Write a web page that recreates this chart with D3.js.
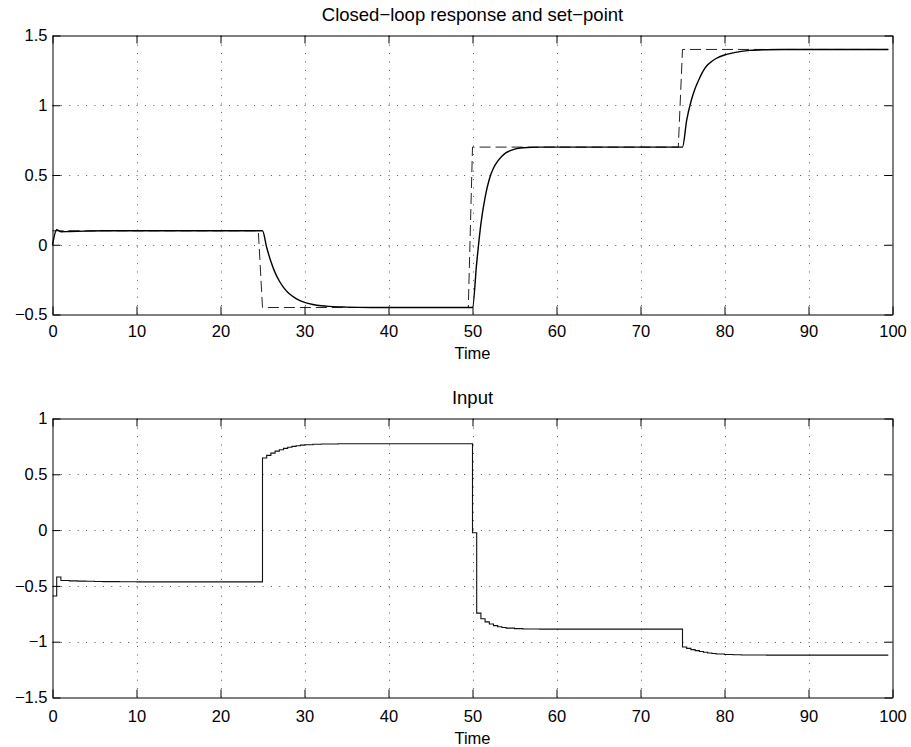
<!DOCTYPE html>
<html>
<head>
<meta charset="utf-8">
<script src="https://cdn.jsdelivr.net/npm/d3@7"></script>
<style>
  html, body { margin: 0; padding: 0; background: #fff; }
  svg { display: block; }
  text { font-family: "Liberation Sans", Arial, Helvetica, sans-serif; fill: #000; }
</style>
</head>
<body>
<svg id="chart" width="911" height="747"></svg>
<script>
// ---- data ---------------------------------------------------------------
// set-point trajectory (dashed)
const setpointTime  = [0, 24.5, 25, 49.5, 50, 74.5, 75, 99.5];
const setpointValue = [0.1, 0.1, -0.45, -0.45, 0.7, 0.7, 1.4, 1.4];

// closed-loop output (solid)
const responseTime = [
  0, 0.5, 1, 2, 4, 6, 25,
  25.5, 26, 26.5, 27, 27.5, 28, 28.5, 29, 30, 31, 32, 33, 35, 38, 50,
  50.5, 51, 51.5, 52, 52.5, 53, 53.5, 54, 55, 56, 58, 75,
  75.5, 76, 76.5, 77, 77.5, 78, 78.5, 79, 80, 81, 82, 83, 85, 87, 99.5
];
const responseValue = [
  0, 0.107, 0.093, 0.095, 0.098, 0.1, 0.1,
  -0.02, -0.12, -0.2, -0.26, -0.305, -0.34, -0.366, -0.386, -0.413, -0.428, -0.437, -0.442, -0.447, -0.45, -0.45,
  -0.13, 0.15, 0.34, 0.47, 0.55, 0.6, 0.635, 0.66, 0.685, 0.695, 0.7, 0.7,
  0.893, 1.025, 1.12, 1.19, 1.25, 1.29, 1.315, 1.335, 1.36, 1.375, 1.386, 1.393, 1.398, 1.4, 1.4
];

// controller input (zero-order hold)
const inputTime = [
  0, 0.5, 1, 2, 3, 4, 5, 6, 8, 10,
  25, 25.5, 26, 26.5, 27, 27.5, 28, 28.5, 29, 29.5, 30, 31, 32, 34,
  50, 50.5, 51, 51.5, 52, 52.5, 53, 53.5, 54, 55, 56, 58,
  75, 75.5, 76, 76.5, 77, 77.5, 78, 78.5, 79, 80, 81, 82, 85, 99.5
];
const inputValue = [
  -0.59, -0.42, -0.452, -0.455, -0.457, -0.459, -0.461, -0.462, -0.463, -0.464,
  0.646, 0.67, 0.69, 0.708, 0.72, 0.732, 0.742, 0.75, 0.756, 0.761, 0.765, 0.769, 0.772, 0.774,
  -0.024, -0.744, -0.795, -0.822, -0.842, -0.856, -0.866, -0.873, -0.878, -0.883, -0.886, -0.887,
  -1.047, -1.06, -1.071, -1.08, -1.088, -1.095, -1.101, -1.106, -1.11, -1.115, -1.117, -1.119, -1.12, -1.12
];

// axis ticks
const timeTicks   = [0, 10, 20, 30, 40, 50, 60, 70, 80, 90, 100];
const outputTicks = [-0.5, 0, 0.5, 1, 1.5];
const inputTicks  = [-1.5, -1, -0.5, 0, 0.5, 1];

const titles = ["Closed\u2212loop response and set\u2212point", "Input"];
const xLabel = "Time";

// ---- layout -------------------------------------------------------------
const svg = d3.select("#chart");
svg.append("rect").attr("width", 911).attr("height", 747).attr("fill", "#fff");

const left = 52.5, right = 892.5;
const fmt = d3.format("~g");
const TICK = 8;

function panel(opts) {
  const { top, bottom, yDomain, yTicks, title, xPad, labelGap } = opts;
  const x = d3.scaleLinear().domain([0, 100]).range([left, right]);
  const y = d3.scaleLinear().domain(yDomain).range([bottom, top]);
  const g = svg.append("g");

  // dotted grid
  const grid = g.append("g")
    .attr("stroke", "#555")
    .attr("stroke-width", 1)
    .attr("stroke-dasharray", "1,7.4")
    .attr("fill", "none");
  grid.selectAll("line.v")
    .data(timeTicks.filter(t => t > 0 && t < 100))
    .join("line")
    .attr("x1", d => Math.round(x(d)) + 0.5).attr("x2", d => Math.round(x(d)) + 0.5)
    .attr("y1", bottom).attr("y2", top);
  grid.selectAll("line.h")
    .data(yTicks.filter(v => v > yDomain[0] && v < yDomain[1]))
    .join("line")
    .attr("y1", d => Math.round(y(d)) + 0.5).attr("y2", d => Math.round(y(d)) + 0.5)
    .attr("x1", left).attr("x2", right);

  // axes: labelled bottom/left, bare top/right, all ticks pointing inward
  const axB = d3.axisBottom(x).tickValues(timeTicks).tickFormat(fmt)
    .tickSizeInner(-TICK).tickSizeOuter(0).tickPadding(xPad);
  const axT = d3.axisTop(x).tickValues(timeTicks).tickFormat("")
    .tickSizeInner(-TICK).tickSizeOuter(0);
  const axL = d3.axisLeft(y).tickValues(yTicks).tickFormat(fmt)
    .tickSizeInner(-TICK).tickSizeOuter(0).tickPadding(5);
  const axR = d3.axisRight(y).tickValues(yTicks).tickFormat("")
    .tickSizeInner(-TICK).tickSizeOuter(0);

  const style = sel => {
    sel.selectAll("path.domain").attr("stroke", "#000").attr("stroke-width", 1);
    sel.selectAll(".tick line").attr("stroke", "#000").attr("stroke-width", 1);
    sel.selectAll(".tick text").attr("font-size", 16.5)
      .attr("font-family", "\"Liberation Sans\", Arial, Helvetica, sans-serif").attr("fill", "#000");
  };

  // lines drawn before the frame so the frame sits on top
  const lines = g.append("g");

  g.append("g").attr("transform", `translate(0,${bottom})`).call(axB).call(style);
  g.append("g").attr("transform", `translate(0,${top})`).call(axT).call(style);
  g.append("g").attr("transform", `translate(${left},0)`).call(axL).call(style);
  g.append("g").attr("transform", `translate(${right},0)`).call(axR).call(style);

  // title and x label
  g.append("text")
    .attr("x", (left + right) / 2).attr("y", top - 15)
    .attr("text-anchor", "middle").attr("font-size", 18.5)
    .text(title);
  g.append("text")
    .attr("x", (left + right) / 2).attr("y", bottom + labelGap)
    .attr("text-anchor", "middle").attr("font-size", 16.5)
    .text(xLabel);

  return { x, y, lines };
}

// ---- top panel: output and set-point -----------------------------------
const p1 = panel({ top: 35.5, bottom: 314.5, yDomain: [-0.5, 1.5], yTicks: outputTicks,
                   title: titles[0], xPad: 11, labelGap: 44 });

const setpointLine = d3.line()
  .x(i => p1.x(setpointTime[i]))
  .y(i => p1.y(setpointValue[i]));
p1.lines.append("path")
  .attr("d", setpointLine(d3.range(setpointTime.length)))
  .attr("fill", "none").attr("stroke", "#222").attr("stroke-width", 1)
  .attr("stroke-dasharray", "11,5");

const responseLine = d3.line()
  .x(i => p1.x(responseTime[i]))
  .y(i => p1.y(responseValue[i]))
  .curve(d3.curveMonotoneX);
p1.lines.append("path")
  .attr("d", responseLine(d3.range(responseTime.length)))
  .attr("fill", "none").attr("stroke", "#000").attr("stroke-width", 1.4)
  .attr("stroke-linejoin", "round");

// ---- bottom panel: input -----------------------------------------------
const p2 = panel({ top: 418.5, bottom: 697.5, yDomain: [-1.5, 1], yTicks: inputTicks,
                   title: titles[1], xPad: 13, labelGap: 46 });

const inputLine = d3.line()
  .x(i => p2.x(inputTime[i]))
  .y(i => p2.y(inputValue[i]))
  .curve(d3.curveStepAfter);
p2.lines.append("path")
  .attr("d", inputLine(d3.range(inputTime.length)))
  .attr("fill", "none").attr("stroke", "#111").attr("stroke-width", 1.1);
</script>
</body>
</html>
